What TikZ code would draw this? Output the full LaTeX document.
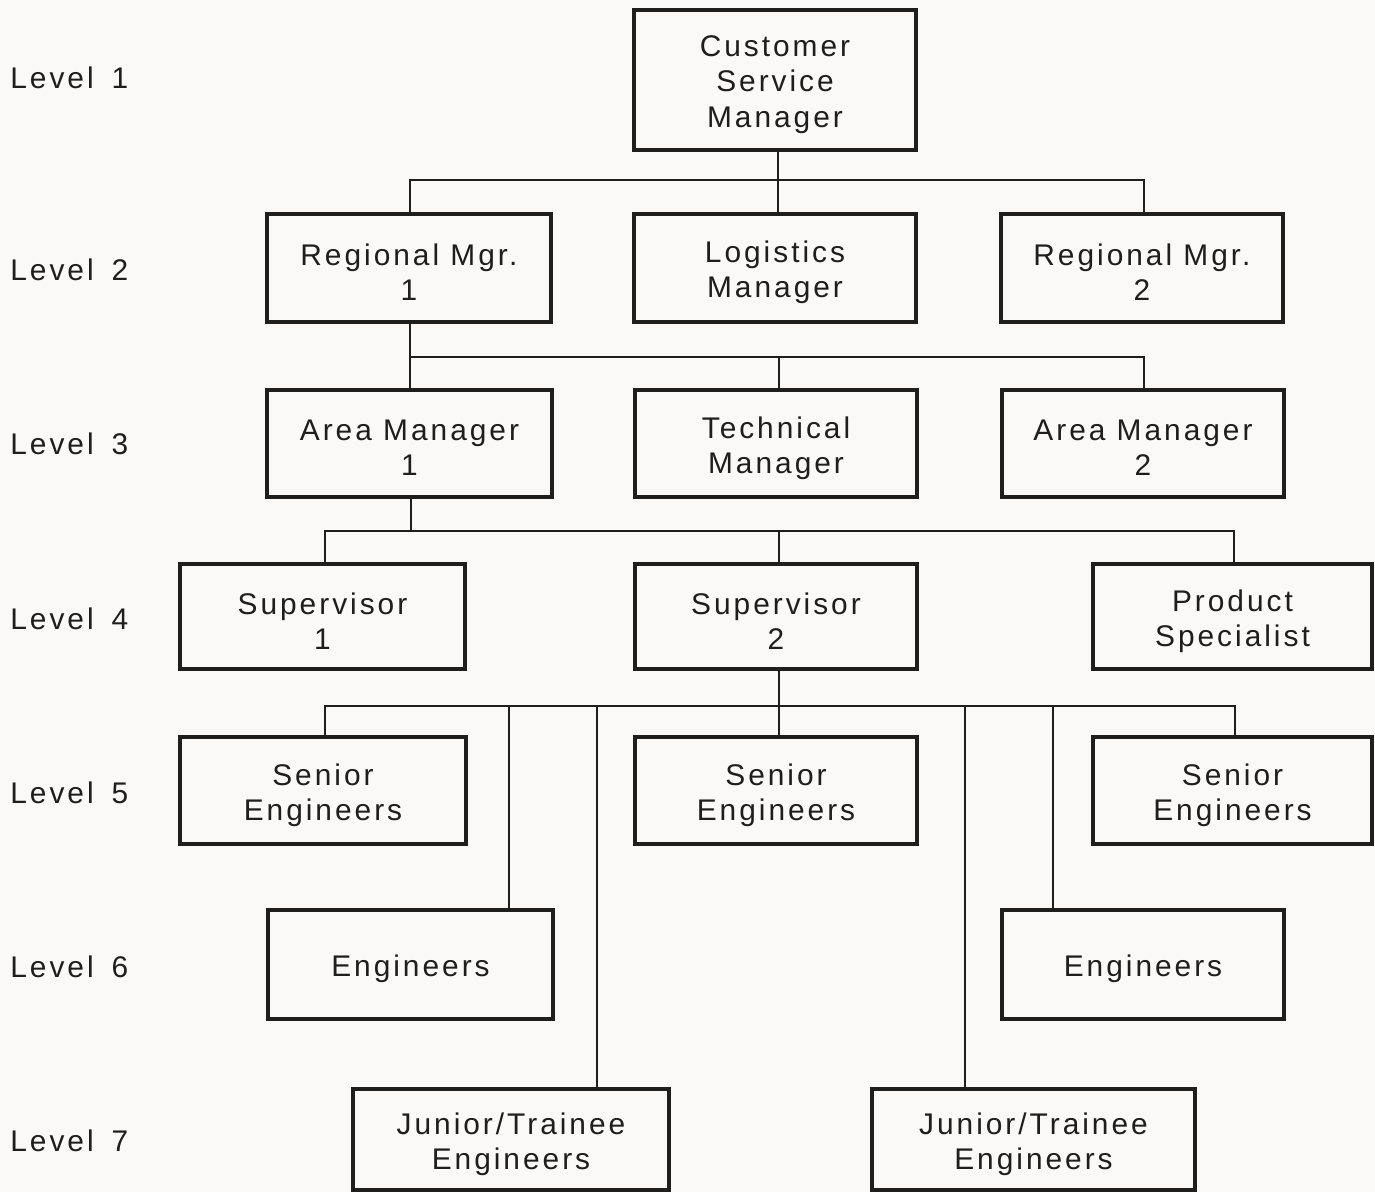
\documentclass[tikz,border=0pt]{standalone}
\usepackage{fontspec}
\setmainfont{Liberation Sans}[LetterSpace=10]
\definecolor{bg}{RGB}{250,249,247}
\definecolor{ink}{RGB}{30,30,30}
\begin{document}
\begin{tikzpicture}[x=0.02cm,y=-0.02cm,
  box/.style={draw=ink,line width=2.2pt,inner sep=0pt,outer sep=0pt},
  txt/.style={align=center,inner sep=0pt,yshift=-2.6pt,
    font=\fontsize{17}{20}\selectfont,text=ink},
  lvl/.style={anchor=west,inner sep=0pt,font=\fontsize{17}{20}\selectfont,text=ink},
  conn/.style={draw=ink,line width=1.1pt}]
\fill[bg] (0,0) rectangle (1375,1192);
\useasboundingbox (0,0) rectangle (1375,1192);

% level labels
\node[lvl] (l1) at (10,78) {Level\hspace{0.6em}1};
\node[lvl] (l2) at (10,270) {Level\hspace{0.6em}2};
\node[lvl] (l3) at (10,444) {Level\hspace{0.6em}3};
\node[lvl] (l4) at (10,619) {Level\hspace{0.6em}4};
\node[lvl] (l5) at (10,793) {Level\hspace{0.6em}5};
\node[lvl] (l6) at (10,967) {Level\hspace{0.6em}6};
\node[lvl] (l7) at (10,1141) {Level\hspace{0.6em}7};

% boxes
\node[box,minimum width=5.64cm,minimum height=2.8cm,label={[txt]center:Customer\\Service\\Manager}] (csm) at (775,80) {};
\node[box,minimum width=5.68cm,minimum height=2.16cm,label={[txt]center:Regional Mgr.\\1}] (rm1) at (409,268) {};
\node[box,minimum width=5.64cm,minimum height=2.16cm,label={[txt]center:Logistics\\Manager}] (lm) at (775,268) {};
\node[box,minimum width=5.64cm,minimum height=2.16cm,label={[txt]center:Regional Mgr.\\2}] (rm2) at (1142,268) {};
\node[box,minimum width=5.7cm,minimum height=2.14cm,label={[txt]center:Area Manager\\1}] (am1) at (409.5,443.5) {};
\node[box,minimum width=5.64cm,minimum height=2.14cm,label={[txt]center:Technical\\Manager}] (tm) at (776,443.5) {};
\node[box,minimum width=5.64cm,minimum height=2.14cm,label={[txt]center:Area Manager\\2}] (am2) at (1143,443.5) {};
\node[box,minimum width=5.7cm,minimum height=2.1cm,label={[txt]center:Supervisor\\1}] (sup1) at (322.5,616.5) {};
\node[box,minimum width=5.64cm,minimum height=2.1cm,label={[txt]center:Supervisor\\2}] (sup2) at (776,616.5) {};
\node[box,minimum width=5.58cm,minimum height=2.1cm,label={[txt]center:Product\\Specialist}] (ps) at (1232.5,616.5) {};
\node[box,minimum width=5.72cm,minimum height=2.14cm,label={[txt]center:Senior\\Engineers}] (se1) at (323,790.5) {};
\node[box,minimum width=5.64cm,minimum height=2.14cm,label={[txt]center:Senior\\Engineers}] (se2) at (776,790.5) {};
\node[box,minimum width=5.58cm,minimum height=2.14cm,label={[txt]center:Senior\\Engineers}] (se3) at (1232.5,790.5) {};
\node[box,minimum width=5.7cm,minimum height=2.18cm,label={[txt]center:Engineers}] (eng1) at (410.5,964.5) {};
\node[box,minimum width=5.64cm,minimum height=2.18cm,label={[txt]center:Engineers}] (eng2) at (1143,964.5) {};
\node[box,minimum width=6.32cm,minimum height=2.02cm,label={[txt]center:Junior/Trainee\\Engineers}] (jr1) at (511,1139.5) {};
\node[box,minimum width=6.46cm,minimum height=2.02cm,label={[txt]center:Junior/Trainee\\Engineers}] (jr2) at (1033.5,1139.5) {};

% bus coordinates
\coordinate (b1) at (778,180);
\coordinate (b1l) at (410,180);
\coordinate (b1r) at (1144,180);
\coordinate (b2) at (410,357);
\coordinate (b2m) at (779,357);
\coordinate (b2r) at (1144,357);
\coordinate (b3) at (411,531);
\coordinate (b3l) at (325,531);
\coordinate (b3m) at (779,531);
\coordinate (b3r) at (1234,531);
\coordinate (b4) at (779,706);
\coordinate (b4l) at (325,706);
\coordinate (b4r) at (1235,706);
\coordinate (d1) at (509,706);
\coordinate (d2) at (597,706);
\coordinate (d3) at (965,706);
\coordinate (d4) at (1053,706);

% connectors
\draw[conn] (b1 |- csm.south) -- (b1);
\draw[conn] (b1l |- rm1.north) -- (b1l) -- (b1r) -- (b1r |- rm2.north);
\draw[conn] (b1) -- (b1 |- lm.north);

\draw[conn] (b2 |- rm1.south) -- (b2);
\draw[conn] (b2 |- am1.north) -- (b2) -- (b2r) -- (b2r |- am2.north);
\draw[conn] (b2m) -- (b2m |- tm.north);

\draw[conn] (b3 |- am1.south) -- (b3);
\draw[conn] (b3l |- sup1.north) -- (b3l) -- (b3r) -- (b3r |- ps.north);
\draw[conn] (b3m) -- (b3m |- sup2.north);

\draw[conn] (b4 |- sup2.south) -- (b4);
\draw[conn] (b4l |- se1.north) -- (b4l) -- (b4r) -- (b4r |- se3.north);
\draw[conn] (b4) -- (b4 |- se2.north);
\draw[conn] (d1) -- (d1 |- eng1.north);
\draw[conn] (d2) -- (d2 |- jr1.north);
\draw[conn] (d3) -- (d3 |- jr2.north);
\draw[conn] (d4) -- (d4 |- eng2.north);
\end{tikzpicture}
\end{document}
